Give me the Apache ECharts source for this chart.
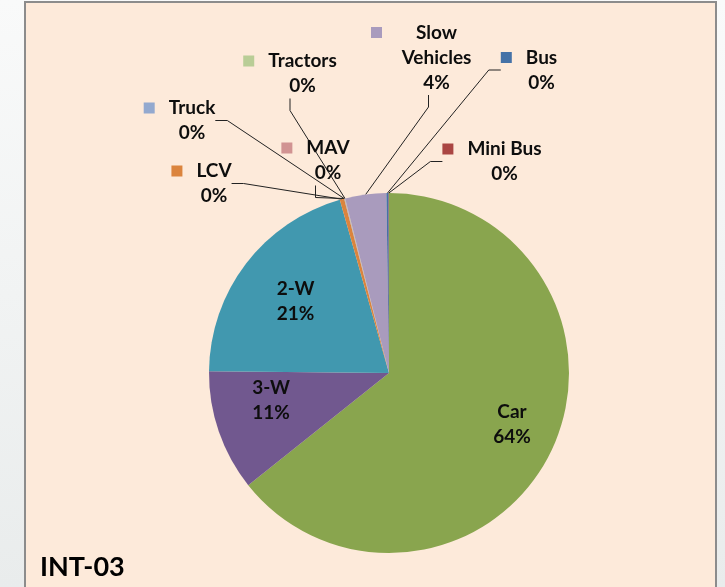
<!DOCTYPE html>
<html><head><meta charset="utf-8">
<script src="https://cdn.jsdelivr.net/npm/echarts@6/dist/echarts.min.js"></script>
<style>
html,body{margin:0;padding:0;width:725px;height:587px;overflow:hidden;background:linear-gradient(#f9fafa,#e9ecec);}
#c{width:725px;height:587px;}
</style>
</head><body><div id="c"></div>
<script>
// ---- data ----
const categories = ['Car', '3-W', '2-W', 'LCV', 'Truck', 'MAV', 'Tractors', 'Slow Vehicles', 'Bus', 'Mini Bus'];
const values = [64.49, 10.9, 20.5, 0.4, 0.03, 0.03, 0.03, 3.7, 0.2, 0.03];
const insideCategories = ['Car', '3-W', '2-W'];
const chartTitle = 'INT-03';

// ---- styles / layout ----
const colors = ['#89A54E', '#71588F', '#4198AF', '#DB843D', '#93A9CF', '#D19392', '#B9CD96', '#A99BBD', '#4572A7', '#AA4643'];
const labelPos = {
  'Car': [512, 424],
  '3-W': [271, 400],
  '2-W': [295.5, 301.5],
  'LCV': [201.5, 183.5],
  'Truck': [179.5, 120.5],
  'MAV': [315.5, 160.5],
  'Tractors': [290, 73.5],
  'Slow Vehicles': [428.5, 57.5],
  'Bus': [529, 70],
  'Mini Bus': [492, 161.5]
};
const FONT = 'Lato';
const txt = {fontFamily: FONT, fontWeight: 'bold', fontSize: 19, color: '#0d0d0d', lineHeight: 25};

const data = categories.map((name, i) => {
  const inside = insideCategories.indexOf(name) >= 0;
  const item = {name: name, value: values[i], itemStyle: {color: colors[i]}};
  if (inside) {
    item.label = {position: 'inside', formatter: '{t|{b}}\n{t|{d}%}'};
    item.labelLine = {show: false};
  } else {
    item.label = {
      position: 'outside',
      rich: {
        sq: {width: 11, height: 11, backgroundColor: colors[i]},
        g: {width: 14},
        g2: {width: 5},
        sp: {width: 25},
        sp2: {width: 16},
        t: txt,
        w: Object.assign({}, txt, {width: 99, align: 'center'})
      },
      formatter: function (p) {
        if (p.name === 'Slow Vehicles') {
          return '{sq|}{g2|}{w|Slow}\n{sp2|}{w|Vehicles}\n{sp2|}{w|' + p.percent + '%}';
        }
        return '{sq|}{g|}{t|' + p.name + '}\n{sp|}{t|' + p.percent + '%}';
      }
    };
    item.labelLine = {show: true};
  }
  return item;
});

const chart = echarts.init(document.getElementById('c'));
chart.setOption({
  animation: false,
  graphic: [{
    type: 'rect', z: -10,
    shape: {x: 25, y: 2, width: 691, height: 620},
    style: {fill: '#FDEADA', stroke: '#8C8C8C', lineWidth: 2}
  }],
  title: {
    text: chartTitle, left: 35, top: 549,
    textStyle: {fontFamily: FONT, fontWeight: 'bold', fontSize: 27, color: '#000'}
  },
  series: [{
    type: 'pie',
    center: [389, 373],
    radius: 180,
    startAngle: 90,
    clockwise: true,
    avoidLabelOverlap: false,
    percentPrecision: 0,
    data: data,
    label: {show: true, rich: {t: txt}, textStyle: txt},
    labelLine: {length: 12, length2: 12, smooth: false, lineStyle: {color: '#222', width: 1}},
    labelLayout: function (params) {
      const pos = labelPos[categories[params.dataIndex]];
      return {x: pos[0], y: pos[1], align: 'center', verticalAlign: 'middle', hideOverlap: false, moveOverlap: null};
    },
    itemStyle: {borderWidth: 0},
    emphasis: {disabled: true}
  }]
});
</script>
</body></html>
